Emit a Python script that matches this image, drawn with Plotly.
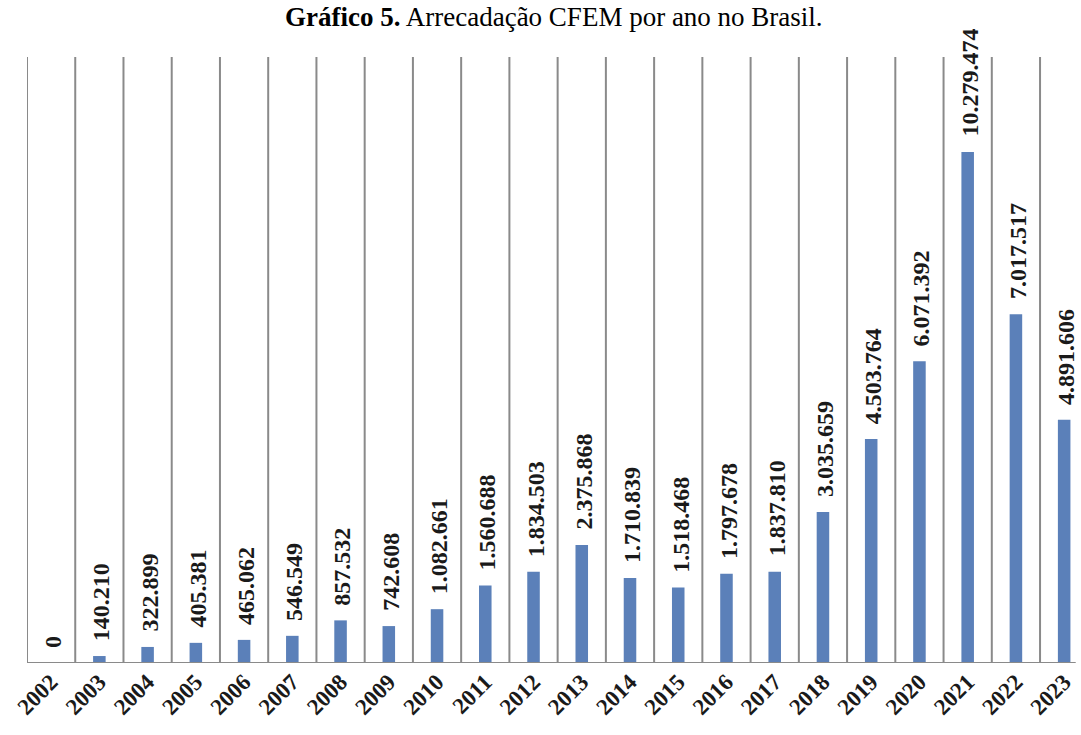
import plotly.graph_objects as go

anos = [str(a) for a in range(2002, 2024)]
arrecadacao = [0, 140210, 322899, 405381, 465062, 546549, 857532, 742608,
               1082661, 1560688, 1834503, 2375868, 1710839, 1518468, 1797678,
               1837810, 3035659, 4503764, 6071392, 10279474, 7017517, 4891606]
rotulos = ["0", "140.210", "322.899", "405.381", "465.062", "546.549", "857.532",
           "742.608", "1.082.661", "1.560.688", "1.834.503", "2.375.868",
           "1.710.839", "1.518.468", "1.797.678", "1.837.810", "3.035.659",
           "4.503.764", "6.071.392", "10.279.474", "7.017.517", "4.891.606"]
titulo_negrito = "Gráfico 5."
titulo_resto = " Arrecadação CFEM por ano no Brasil."

W, H = 1081, 735
ML, MR, MT, MB = 27, 0, 57, 72
cat_px = 48.24
plot_w = W - ML - MR
plot_h = H - MT - MB
x_max = -0.5 + plot_w / cat_px
y_max = 12.19e6

serif = "Liberation Serif, Times New Roman, serif"
grid_color = "#8a8a8a"
bar_color = "#5b80b9"

fig = go.Figure()
fig.add_trace(go.Bar(
    x=list(range(len(anos))), y=arrecadacao,
    marker=dict(color=bar_color, line=dict(width=0)),
    width=0.26, hoverinfo="skip",
))

# vertical separators at category boundaries
shapes = []
for i in range(len(anos)):
    shapes.append(dict(type="line", xref="x", yref="paper",
                       x0=i - 0.5, x1=i - 0.5, y0=0, y1=1,
                       line=dict(color=grid_color, width=2), layer="below"))
# baseline
shapes.append(dict(type="line", xref="paper", yref="y", x0=0, x1=0.995,
                   y0=0, y1=0, line=dict(color=grid_color, width=2)))

annotations = []
for i, (v, lab) in enumerate(zip(arrecadacao, rotulos)):
    annotations.append(dict(
        x=i + 0.04, y=v, xref="x", yref="y", text=f"<b>{lab}</b>",
        showarrow=False, textangle=-90, xanchor="center", yanchor="bottom",
        yshift=13, font=dict(family=serif, size=24, color="#1a1a1a"),
    ))

# chart title at the very top of the page
annotations.append(dict(
    x=541 / W, xref="paper", y=1 + MT / plot_h, yref="paper",
    text=f"<b>{titulo_negrito}</b>{titulo_resto}", showarrow=False,
    xanchor="center", yanchor="top",
    font=dict(family=serif, size=27, color="#000000"),
))

fig.update_layout(
    width=W, height=H,
    margin=dict(l=ML, r=MR, t=MT, b=MB, pad=0),
    paper_bgcolor="white", plot_bgcolor="white",
    showlegend=False,
    xaxis=dict(range=[-0.5, x_max], tickmode="array",
               tickvals=list(range(len(anos))),
               ticktext=[f"<b>{a}</b>" for a in anos],
               tickangle=-45, showgrid=False, zeroline=False, showline=False,
               ticks="", tickfont=dict(family=serif, size=23, color="#1a1a1a")),
    yaxis=dict(range=[0, y_max], visible=False, showgrid=False, zeroline=False),
    shapes=shapes, annotations=annotations,
)

fig.write_html("out.html")
